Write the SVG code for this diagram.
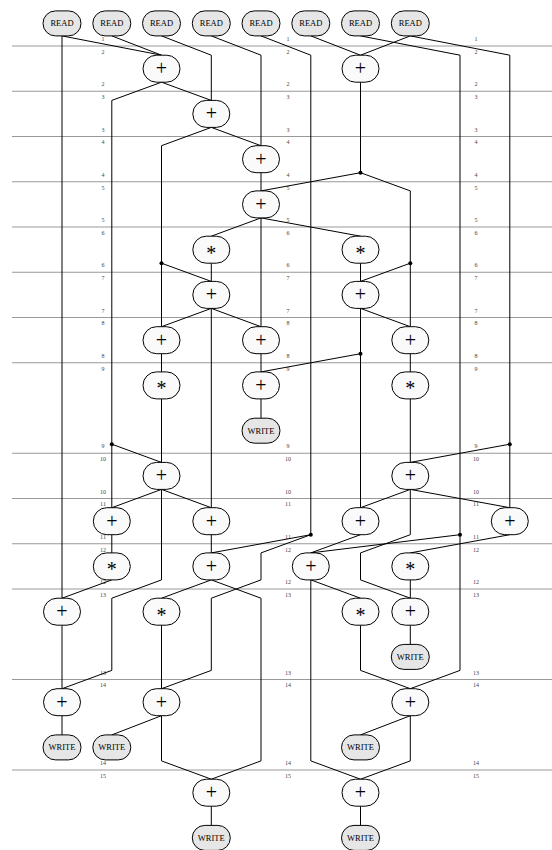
<svg xmlns="http://www.w3.org/2000/svg" width="552" height="850" viewBox="0 0 552 850">
<style>
.bg{fill:#ffffff}
.grid line{stroke:#999999;stroke-width:1.2}
.lbl{font-family:"Liberation Serif",serif;font-size:6px;fill:#444444;text-anchor:middle}
.edges polyline{fill:none;stroke:#000000;stroke-width:1}
.edges circle{fill:#000000}
.op use{fill:#fafafa;stroke:#000000;stroke-width:1}
.io use{fill:#e6e6e6;stroke:#000000;stroke-width:1}
.op text{font-family:"Liberation Serif",serif;font-size:20px;fill:#000000;stroke:none;text-anchor:middle}
.io text{font-family:"Liberation Serif",serif;font-size:8.5px;fill:#000000;stroke:none;text-anchor:middle}
</style>
<defs>
<rect id="opbox" x="-18.5" y="-13.5" width="37" height="27" rx="13.5" ry="13.5"/>
<rect id="iobox" x="-19" y="-12.5" width="38" height="25" rx="12.5" ry="12.5"/>
</defs>
<rect class="bg" x="0" y="0" width="552" height="850"/>
<g class="grid">
<line x1="12" y1="46" x2="552" y2="46"/>
<line x1="12" y1="91.25" x2="552" y2="91.25"/>
<line x1="12" y1="136.5" x2="552" y2="136.5"/>
<line x1="12" y1="181.75" x2="552" y2="181.75"/>
<line x1="12" y1="227" x2="552" y2="227"/>
<line x1="12" y1="272.25" x2="552" y2="272.25"/>
<line x1="12" y1="317.5" x2="552" y2="317.5"/>
<line x1="12" y1="362.75" x2="552" y2="362.75"/>
<line x1="12" y1="453.25" x2="552" y2="453.25"/>
<line x1="12" y1="498.5" x2="552" y2="498.5"/>
<line x1="12" y1="543.75" x2="552" y2="543.75"/>
<line x1="12" y1="589" x2="552" y2="589"/>
<line x1="12" y1="679.5" x2="552" y2="679.5"/>
<line x1="12" y1="770" x2="552" y2="770"/>
</g>
<g class="labels">
<g class="lbl">
<text x="103" y="41">1</text><text x="288" y="41">1</text><text x="476" y="41">1</text>
<text x="103" y="53.7">2</text><text x="288" y="53.7">2</text><text x="476" y="53.7">2</text>
<text x="103" y="86.3">2</text><text x="288" y="86.3">2</text><text x="476" y="86.3">2</text>
<text x="103" y="99">3</text><text x="288" y="99">3</text><text x="476" y="99">3</text>
<text x="103" y="131.5">3</text><text x="288" y="131.5">3</text><text x="476" y="131.5">3</text>
<text x="103" y="144.2">4</text><text x="288" y="144.2">4</text><text x="476" y="144.2">4</text>
<text x="103" y="176.8">4</text><text x="288" y="176.8">4</text><text x="476" y="176.8">4</text>
<text x="103" y="189.5">5</text><text x="288" y="189.5">5</text><text x="476" y="189.5">5</text>
<text x="103" y="222">5</text><text x="288" y="222">5</text><text x="476" y="222">5</text>
<text x="103" y="234.7">6</text><text x="288" y="234.7">6</text><text x="476" y="234.7">6</text>
<text x="103" y="267.3">6</text><text x="288" y="267.3">6</text><text x="476" y="267.3">6</text>
<text x="103" y="280">7</text><text x="288" y="280">7</text><text x="476" y="280">7</text>
<text x="103" y="312.5">7</text><text x="288" y="312.5">7</text><text x="476" y="312.5">7</text>
<text x="103" y="325.2">8</text><text x="288" y="325.2">8</text><text x="476" y="325.2">8</text>
<text x="103" y="357.8">8</text><text x="288" y="357.8">8</text><text x="476" y="357.8">8</text>
<text x="103" y="370.5">9</text><text x="288" y="370.5">9</text><text x="476" y="370.5">9</text>
<text x="103" y="448.3">9</text><text x="288" y="448.3">9</text><text x="476" y="448.3">9</text>
<text x="103" y="461">10</text><text x="288" y="461">10</text><text x="476" y="461">10</text>
<text x="103" y="493.5">10</text><text x="288" y="493.5">10</text><text x="476" y="493.5">10</text>
<text x="103" y="506.2">11</text><text x="288" y="506.2">11</text><text x="476" y="506.2">11</text>
<text x="103" y="538.8">11</text><text x="288" y="538.8">11</text><text x="476" y="538.8">11</text>
<text x="103" y="551.5">12</text><text x="288" y="551.5">12</text><text x="476" y="551.5">12</text>
<text x="103" y="584">12</text><text x="288" y="584">12</text><text x="476" y="584">12</text>
<text x="103" y="596.7">13</text><text x="288" y="596.7">13</text><text x="476" y="596.7">13</text>
<text x="103" y="674.5">13</text><text x="288" y="674.5">13</text><text x="476" y="674.5">13</text>
<text x="103" y="687.2">14</text><text x="288" y="687.2">14</text><text x="476" y="687.2">14</text>
<text x="103" y="765">14</text><text x="288" y="765">14</text><text x="476" y="765">14</text>
<text x="103" y="777.7">15</text><text x="288" y="777.7">15</text><text x="476" y="777.7">15</text>
</g>
</g>
<g id="connectors" class="edges">
<polyline points="62,35.9 161.5,55.2"/>
<polyline points="62,35.9 62,598.2"/>
<polyline points="111.8,35.9 161.5,55.2"/>
<polyline points="161.5,35.9 211.3,55.2 211.3,100.4"/>
<polyline points="211.3,35.9 261,55.2 261,145.7"/>
<polyline points="261,35.9 310.8,55.2 310.8,534.7"/>
<polyline points="310.8,35.9 360.5,55.2"/>
<polyline points="360.5,35.9 460,55.2 460,534.7"/>
<polyline points="410.3,35.9 360.5,55.2"/>
<polyline points="410.3,35.9 509.8,55.2 509.8,444.2"/>
<polyline points="509.8,444.2 410.3,462.4"/>
<polyline points="509.8,444.2 509.8,507.7"/>
<polyline points="161.5,82.2 211.3,100.4"/>
<polyline points="161.5,82.2 111.8,100.4 111.8,444.2"/>
<polyline points="111.8,444.2 161.5,462.4"/>
<polyline points="111.8,444.2 111.8,507.7"/>
<polyline points="360.5,82.2 360.5,172.7"/>
<polyline points="360.5,172.7 261,190.9"/>
<polyline points="360.5,172.7 410.3,190.9 410.3,263.2"/>
<polyline points="410.3,263.2 360.5,281.4"/>
<polyline points="410.3,263.2 410.3,326.7"/>
<polyline points="211.3,127.4 261,145.7"/>
<polyline points="211.3,127.4 161.5,145.7 161.5,263.2"/>
<polyline points="161.5,263.2 211.3,281.4"/>
<polyline points="161.5,263.2 161.5,326.7"/>
<polyline points="261,172.7 261,190.9"/>
<polyline points="261,217.9 211.3,236.2"/>
<polyline points="261,217.9 360.5,236.2"/>
<polyline points="261,217.9 261,326.7"/>
<polyline points="211.3,263.2 211.3,281.4"/>
<polyline points="360.5,263.2 360.5,281.4"/>
<polyline points="211.3,308.4 161.5,326.7"/>
<polyline points="211.3,308.4 261,326.7"/>
<polyline points="211.3,308.4 211.3,507.7"/>
<polyline points="360.5,308.4 410.3,326.7"/>
<polyline points="360.5,308.4 360.5,353.7"/>
<polyline points="360.5,353.7 261,371.9"/>
<polyline points="360.5,353.7 360.5,507.7"/>
<polyline points="161.5,353.7 161.5,371.9"/>
<polyline points="261,353.7 261,371.9"/>
<polyline points="410.3,353.7 410.3,371.9"/>
<polyline points="161.5,398.9 161.5,462.4"/>
<polyline points="261,398.9 261,418.2"/>
<polyline points="410.3,398.9 410.3,462.4"/>
<polyline points="161.5,489.4 111.8,507.7"/>
<polyline points="161.5,489.4 211.3,507.7"/>
<polyline points="161.5,489.4 161.5,579.9 111.8,598.2 111.8,670.4 62,688.7"/>
<polyline points="410.3,489.4 360.5,507.7"/>
<polyline points="410.3,489.4 509.8,507.7"/>
<polyline points="410.3,489.4 410.3,534.7 360.5,552.9 360.5,579.9 410.3,598.2"/>
<polyline points="111.8,534.7 111.8,552.9"/>
<polyline points="211.3,534.7 211.3,552.9"/>
<polyline points="360.5,534.7 310.8,552.9"/>
<polyline points="509.8,534.7 410.3,552.9"/>
<polyline points="310.8,534.7 211.3,552.9"/>
<polyline points="310.8,534.7 261,552.9 261,579.9 211.3,598.2 211.3,670.4 161.5,688.7"/>
<polyline points="460,534.7 310.8,552.9"/>
<polyline points="460,534.7 460,670.4 410.3,688.7"/>
<polyline points="111.8,579.9 62,598.2"/>
<polyline points="211.3,579.9 161.5,598.2"/>
<polyline points="211.3,579.9 261,598.2 261,760.9 211.3,779.2"/>
<polyline points="310.8,579.9 360.5,598.2"/>
<polyline points="310.8,579.9 310.8,760.9 360.5,779.2"/>
<polyline points="410.3,579.9 410.3,598.2"/>
<polyline points="62,625.2 62,688.7"/>
<polyline points="161.5,625.2 161.5,688.7"/>
<polyline points="360.5,625.2 360.5,670.4 410.3,688.7"/>
<polyline points="410.3,625.2 410.3,644.4"/>
<polyline points="62,715.7 62,734.9"/>
<polyline points="161.5,715.7 111.8,734.9"/>
<polyline points="161.5,715.7 161.5,760.9 211.3,779.2"/>
<polyline points="410.3,715.7 360.5,734.9"/>
<polyline points="410.3,715.7 410.3,760.9 360.5,779.2"/>
<polyline points="211.3,806.2 211.3,825.4"/>
<polyline points="360.5,806.2 360.5,825.4"/>
<circle cx="360.5" cy="172.7" r="2"/>
<circle cx="410.3" cy="263.2" r="2"/>
<circle cx="161.5" cy="263.2" r="2"/>
<circle cx="360.5" cy="353.7" r="2"/>
<circle cx="111.8" cy="444.2" r="2"/>
<circle cx="509.8" cy="444.2" r="2"/>
<circle cx="310.8" cy="534.7" r="2"/>
<circle cx="460" cy="534.7" r="2"/>
</g>
<g id="nodes">
<g id="read0" class="io" transform="translate(62,23.4)"><use href="#iobox"/><text y="3">READ</text></g>
<g id="read1" class="io" transform="translate(111.8,23.4)"><use href="#iobox"/><text y="3">READ</text></g>
<g id="read2" class="io" transform="translate(161.5,23.4)"><use href="#iobox"/><text y="3">READ</text></g>
<g id="read3" class="io" transform="translate(211.3,23.4)"><use href="#iobox"/><text y="3">READ</text></g>
<g id="read4" class="io" transform="translate(261,23.4)"><use href="#iobox"/><text y="3">READ</text></g>
<g id="read5" class="io" transform="translate(310.8,23.4)"><use href="#iobox"/><text y="3">READ</text></g>
<g id="read6" class="io" transform="translate(360.5,23.4)"><use href="#iobox"/><text y="3">READ</text></g>
<g id="read7" class="io" transform="translate(410.3,23.4)"><use href="#iobox"/><text y="3">READ</text></g>

<g id="add_s2_a" class="op" transform="translate(161.5,68.7)"><use href="#opbox"/><text y="6.5">+</text></g>
<g id="add_s2_b" class="op" transform="translate(360.5,68.7)"><use href="#opbox"/><text y="6.5">+</text></g>
<g id="add_s3" class="op" transform="translate(211.3,113.9)"><use href="#opbox"/><text y="6.5">+</text></g>
<g id="add_s4" class="op" transform="translate(261,159.2)"><use href="#opbox"/><text y="6.5">+</text></g>
<g id="add_s5" class="op" transform="translate(261,204.4)"><use href="#opbox"/><text y="6.5">+</text></g>
<g id="mul_s6_a" class="op" transform="translate(211.3,249.7)"><use href="#opbox"/><text y="10">*</text></g>
<g id="mul_s6_b" class="op" transform="translate(360.5,249.7)"><use href="#opbox"/><text y="10">*</text></g>
<g id="add_s7_a" class="op" transform="translate(211.3,294.9)"><use href="#opbox"/><text y="6.5">+</text></g>
<g id="add_s7_b" class="op" transform="translate(360.5,294.9)"><use href="#opbox"/><text y="6.5">+</text></g>
<g id="add_s8_a" class="op" transform="translate(161.5,340.2)"><use href="#opbox"/><text y="6.5">+</text></g>
<g id="add_s8_b" class="op" transform="translate(261,340.2)"><use href="#opbox"/><text y="6.5">+</text></g>
<g id="add_s8_c" class="op" transform="translate(410.3,340.2)"><use href="#opbox"/><text y="6.5">+</text></g>
<g id="mul_s9_a" class="op" transform="translate(161.5,385.4)"><use href="#opbox"/><text y="10">*</text></g>
<g id="add_s9" class="op" transform="translate(261,385.4)"><use href="#opbox"/><text y="6.5">+</text></g>
<g id="mul_s9_b" class="op" transform="translate(410.3,385.4)"><use href="#opbox"/><text y="10">*</text></g>
<g id="write_s9" class="io" transform="translate(261,430.7)"><use href="#iobox"/><text y="3">WRITE</text></g>
<g id="add_s10_a" class="op" transform="translate(161.5,475.9)"><use href="#opbox"/><text y="6.5">+</text></g>
<g id="add_s10_b" class="op" transform="translate(410.3,475.9)"><use href="#opbox"/><text y="6.5">+</text></g>
<g id="add_s11_a" class="op" transform="translate(111.8,521.2)"><use href="#opbox"/><text y="6.5">+</text></g>
<g id="add_s11_b" class="op" transform="translate(211.3,521.2)"><use href="#opbox"/><text y="6.5">+</text></g>
<g id="add_s11_c" class="op" transform="translate(360.5,521.2)"><use href="#opbox"/><text y="6.5">+</text></g>
<g id="add_s11_d" class="op" transform="translate(509.8,521.2)"><use href="#opbox"/><text y="6.5">+</text></g>
<g id="mul_s12_a" class="op" transform="translate(111.8,566.4)"><use href="#opbox"/><text y="10">*</text></g>
<g id="add_s12_a" class="op" transform="translate(211.3,566.4)"><use href="#opbox"/><text y="6.5">+</text></g>
<g id="add_s12_b" class="op" transform="translate(310.8,566.4)"><use href="#opbox"/><text y="6.5">+</text></g>
<g id="mul_s12_b" class="op" transform="translate(410.3,566.4)"><use href="#opbox"/><text y="10">*</text></g>
<g id="add_s13_a" class="op" transform="translate(62,611.7)"><use href="#opbox"/><text y="6.5">+</text></g>
<g id="mul_s13_a" class="op" transform="translate(161.5,611.7)"><use href="#opbox"/><text y="10">*</text></g>
<g id="mul_s13_b" class="op" transform="translate(360.5,611.7)"><use href="#opbox"/><text y="10">*</text></g>
<g id="add_s13_b" class="op" transform="translate(410.3,611.7)"><use href="#opbox"/><text y="6.5">+</text></g>
<g id="write_s13" class="io" transform="translate(410.3,656.9)"><use href="#iobox"/><text y="3">WRITE</text></g>
<g id="add_s14_a" class="op" transform="translate(62,702.2)"><use href="#opbox"/><text y="6.5">+</text></g>
<g id="add_s14_b" class="op" transform="translate(161.5,702.2)"><use href="#opbox"/><text y="6.5">+</text></g>
<g id="add_s14_c" class="op" transform="translate(410.3,702.2)"><use href="#opbox"/><text y="6.5">+</text></g>
<g id="write_s14_a" class="io" transform="translate(62,747.4)"><use href="#iobox"/><text y="3">WRITE</text></g>
<g id="write_s14_b" class="io" transform="translate(111.8,747.4)"><use href="#iobox"/><text y="3">WRITE</text></g>
<g id="write_s14_c" class="io" transform="translate(360.5,747.4)"><use href="#iobox"/><text y="3">WRITE</text></g>
<g id="add_s15_a" class="op" transform="translate(211.3,792.7)"><use href="#opbox"/><text y="6.5">+</text></g>
<g id="add_s15_b" class="op" transform="translate(360.5,792.7)"><use href="#opbox"/><text y="6.5">+</text></g>
<g id="write_s15_a" class="io" transform="translate(211.3,837.9)"><use href="#iobox"/><text y="3">WRITE</text></g>
<g id="write_s15_b" class="io" transform="translate(360.5,837.9)"><use href="#iobox"/><text y="3">WRITE</text></g>
</g>
</svg>
